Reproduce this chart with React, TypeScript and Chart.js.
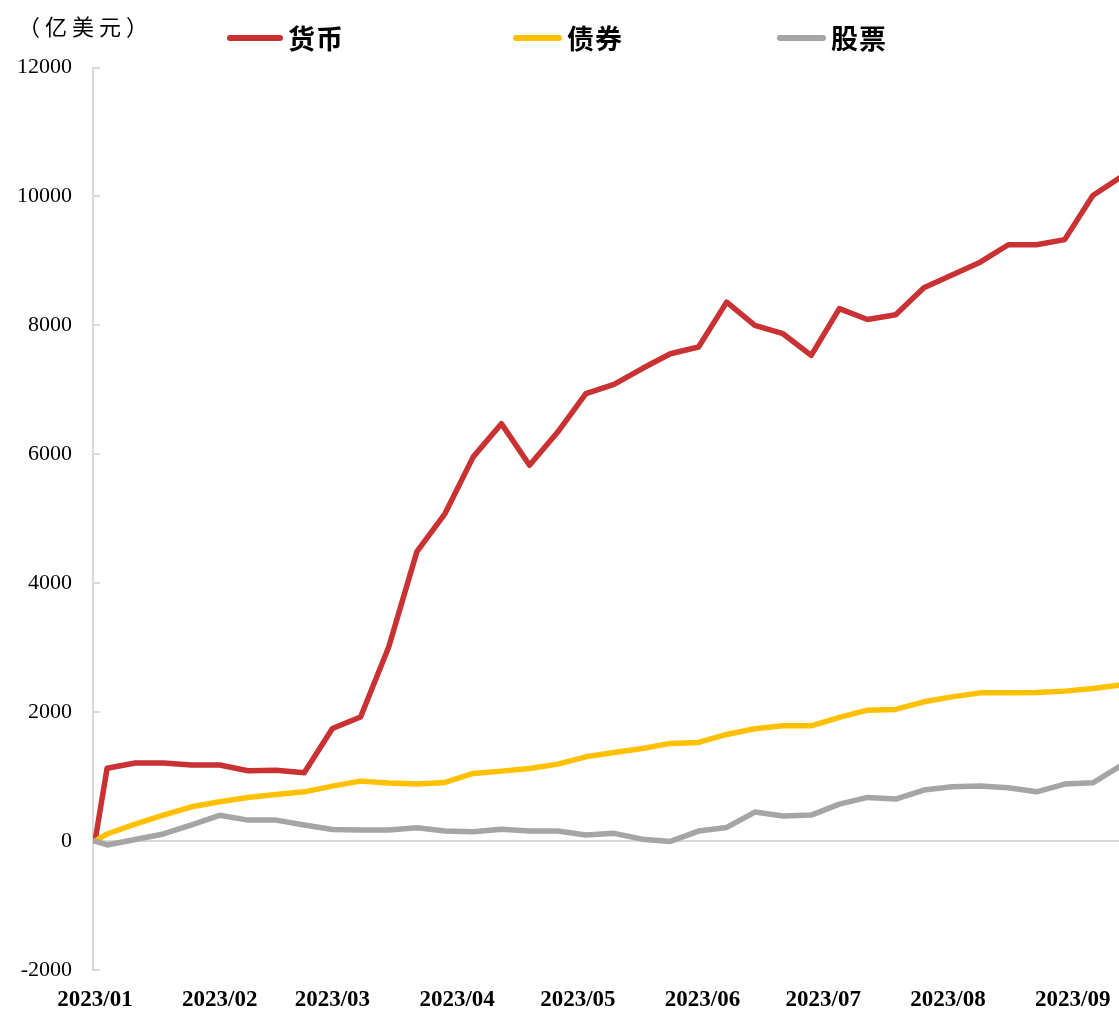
import { useEffect, useRef } from "react";
import { Chart, registerables } from "chart.js";

Chart.register(...registerables);

// ---- data ----
const dates = [
  "2023-01-01", "2023-01-04", "2023-01-11", "2023-01-18", "2023-01-25",
  "2023-02-01", "2023-02-08", "2023-02-15", "2023-02-22",
  "2023-03-01", "2023-03-08", "2023-03-15", "2023-03-22", "2023-03-29",
  "2023-04-05", "2023-04-12", "2023-04-19", "2023-04-26",
  "2023-05-03", "2023-05-10", "2023-05-17", "2023-05-24", "2023-05-31",
  "2023-06-07", "2023-06-14", "2023-06-21", "2023-06-28",
  "2023-07-05", "2023-07-12", "2023-07-19", "2023-07-26",
  "2023-08-02", "2023-08-09", "2023-08-16", "2023-08-23", "2023-08-30",
  "2023-09-06", "2023-09-13",
];

const currency = [
  0, 1130, 1210, 1210, 1180, 1180, 1090, 1100, 1060, 1745,
  1925, 3010, 4490, 5080, 5960, 6475, 5830, 6345, 6940, 7085,
  7330, 7560, 7665, 8360, 8000, 7870, 7535, 8260, 8090, 8165,
  8585, 8780, 8980, 9250, 9250, 9330, 10015, 10300,
];

const bonds = [
  0, 110, 264, 403, 532, 609, 677, 724, 764, 853,
  930, 900, 884, 910, 1050, 1085, 1127, 1194, 1307, 1375,
  1437, 1515, 1530, 1654, 1742, 1788, 1788, 1918, 2031, 2042,
  2160, 2237, 2299, 2299, 2305, 2326, 2367, 2420,
];

const stocks = [
  0, -60, 25, 110, 250, 400, 325, 325, 250, 180,
  170, 170, 205, 155, 145, 185, 155, 155, 95, 120,
  30, -5, 155, 212, 450, 390, 403, 574, 677, 651,
  791, 842, 853, 826, 764, 884, 904, 1170,
];

const seriesNames = ["货币", "债券", "股票"];
const seriesColors = ["#C93132", "#FFC000", "#A5A5A5"];
const monthTicks = [
  "2023-01-01", "2023-02-01", "2023-03-01", "2023-04-01", "2023-05-01",
  "2023-06-01", "2023-07-01", "2023-08-01", "2023-09-01",
];
const unitLabel = "（亿美元）";
const yMin = -2000;
const yMax = 12000;
const yStep = 2000;
const xStartDate = "2022-12-31";
const xEndDate = "2023-09-13";

// ---- helpers ----
const DAY = 86400000;
const ORIGIN = Date.UTC(2023, 0, 1);
const toDay = (s: string) => {
  const [y, m, d] = s.split("-").map(Number);
  return (Date.UTC(y, m - 1, d) - ORIGIN) / DAY;
};
const fmtMonth = (day: number) => {
  const dt = new Date(ORIGIN + Math.round(day) * DAY);
  return `${dt.getUTCFullYear()}/${String(dt.getUTCMonth() + 1).padStart(2, "0")}`;
};

const insideTicks = {
  id: "insideTicks",
  beforeDatasetsDraw(chart: any) {
    const s = chart.scales.y;
    const ctx = chart.ctx;
    ctx.save();
    ctx.strokeStyle = "#D9D9D9";
    ctx.lineWidth = 2;
    s.ticks.forEach((t: any) => {
      const y = Math.round(s.getPixelForValue(t.value));
      ctx.beginPath();
      ctx.moveTo(s.right, y);
      ctx.lineTo(s.right + 7, y);
      ctx.stroke();
    });
    ctx.restore();
  },
};

const legendLayout = [
  { left: 227, lineW: 56 },
  { left: 513, lineW: 49 },
  { left: 777, lineW: 49 },
];

export default function App() {
  const ref = useRef<HTMLCanvasElement | null>(null);

  useEffect(() => {
    if (!ref.current) return;
    const seriesValues = [currency, bonds, stocks];
    const xs = dates.map(toDay);
    const chart = new Chart(ref.current, {
      type: "line",
      data: {
        datasets: seriesValues.map((vals, i) => ({
          label: seriesNames[i],
          data: vals.map((v, j) => ({ x: xs[j], y: v })),
          borderColor: seriesColors[i],
          backgroundColor: seriesColors[i],
          borderWidth: 5.5,
          pointRadius: 0,
          tension: 0,
          borderJoinStyle: "round" as const,
          borderCapStyle: "round" as const,
          order: 2 - i,
        })),
      },
      options: {
        animation: false,
        responsive: false,
        maintainAspectRatio: false,
        layout: { padding: { top: 67.5, left: 0, right: 0, bottom: 0 } },
        plugins: { legend: { display: false }, tooltip: { enabled: false } },
        scales: {
          x: {
            type: "linear",
            min: toDay(xStartDate) + 0.5,
            max: toDay(xEndDate),
            grid: { display: false },
            border: { display: false },
            afterBuildTicks: (s: any) => {
              s.ticks = monthTicks.map((m) => ({ value: toDay(m) }));
            },
            afterFit: (s: any) => {
              s.height = 39;
            },
            ticks: {
              autoSkip: false,
              maxRotation: 0,
              minRotation: 0,
              padding: 8,
              color: "#000",
              font: { family: '"Liberation Serif", "Times New Roman", serif', size: 23, weight: "bold" },
              callback: (v: any) => fmtMonth(Number(v)),
            },
          },
          y: {
            min: yMin,
            max: yMax,
            afterFit: (s: any) => {
              s.width = 93;
            },
            ticks: {
              stepSize: yStep,
              padding: 21,
              color: "#000",
              font: { family: '"Liberation Serif", "Times New Roman", serif', size: 22 },
              callback: (v: any) => String(v),
            },
            grid: {
              drawTicks: false,
              lineWidth: 2,
              color: (c: any) => (c.tick && c.tick.value === 0 ? "#D9D9D9" : "rgba(0,0,0,0)"),
            },
            border: { display: true, color: "#D9D9D9", width: 2 },
          },
        },
      } as any,
      plugins: [insideTicks],
    });
    return () => chart.destroy();
  }, []);

  return (
    <div
      style={{
        position: "fixed",
        left: 0,
        top: 0,
        width: 1121,
        height: 1009,
        background: "#fff",
        overflow: "hidden",
      }}
    >
      <canvas ref={ref} width={1121} height={1009} style={{ display: "block" }} />
      <div
        style={{
          position: "absolute",
          left: 18,
          top: 14,
          fontFamily: '"Noto Sans CJK SC", sans-serif',
          fontSize: 22,
          lineHeight: "22px",
          letterSpacing: 5,
          color: "#000",
          whiteSpace: "nowrap",
        }}
      >
        {unitLabel}
      </div>
      {seriesNames.map((name, i) => (
        <div
          key={name}
          style={{
            position: "absolute",
            left: legendLayout[i].left,
            top: 23,
            height: 30,
            display: "flex",
            alignItems: "center",
            whiteSpace: "nowrap",
          }}
        >
          <span
            style={{
              display: "inline-block",
              width: legendLayout[i].lineW,
              height: 6,
              borderRadius: 3,
              background: seriesColors[i],
              marginRight: 5,
            }}
          />
          <span
            style={{
              fontFamily: '"Noto Sans CJK SC", sans-serif',
              fontWeight: "bold",
              fontSize: 27,
              lineHeight: "30px",
              letterSpacing: 1,
              color: "#000",
            }}
          >
            {name}
          </span>
        </div>
      ))}
    </div>
  );
}
